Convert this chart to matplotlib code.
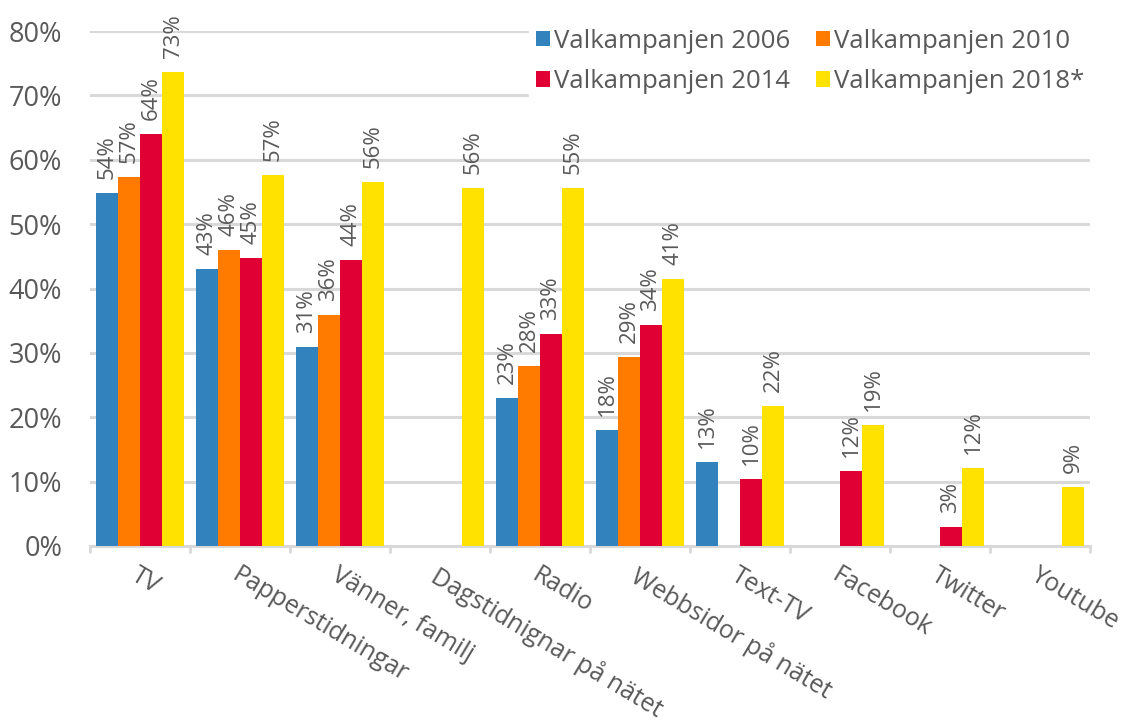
import numpy as np
import matplotlib
matplotlib.use("Agg")
from matplotlib import pyplot as plt

# data
categories = ["TV", "Papperstidningar", "Vänner, familj", "Dagstidnignar på nätet", "Radio",
              "Webbsidor på nätet", "Text-TV", "Facebook", "Twitter", "Youtube"]
series_names = ["Valkampanjen 2006", "Valkampanjen 2010", "Valkampanjen 2014", "Valkampanjen 2018*"]

nan = np.nan
values_2006 = [54.85, 43.1, 30.9, nan, 23.0, 18.0, 13.0, nan, nan, nan]
values_2010 = [57.3, 46.0, 35.9, nan, 28.0, 29.3, nan, nan, nan, nan]
values_2014 = [64.0, 44.8, 44.4, nan, 33.0, 34.3, 10.4, 11.7, 3.0, nan]
values_2018 = [73.6, 57.7, 56.5, 55.6, 55.6, 41.5, 21.8, 18.8, 12.1, 9.2]

labels_2006 = [54, 43, 31, None, 23, 18, 13, None, None, None]
labels_2010 = [57, 46, 36, None, 28, 29, None, None, None, None]
labels_2014 = [64, 45, 44, None, 33, 34, 10, 12, 3, None]
labels_2018 = [73, 57, 56, 56, 55, 41, 22, 19, 12, 9]

colors = ["#3182bd", "#ff7b00", "#e00034", "#ffe200"]
text_color = "#595959"
grid_color = "#d9d9d9"

plt.rcParams["font.family"] = ["Open Sans", "DejaVu Sans"]

fig = plt.figure(figsize=(11.34, 7.25), dpi=100)
ax = fig.add_axes([90 / 1134, 1 - 546 / 725, 1000 / 1134, (546 - 31) / 725])

all_values = [values_2006, values_2010, values_2014, values_2018]
all_labels = [labels_2006, labels_2010, labels_2014, labels_2018]
x = np.arange(len(categories))
width = 0.22

bars = []
for i, (vals, labs) in enumerate(zip(all_values, all_labels)):
    pos = x + (i - 1.5) * width
    b = ax.bar(pos, vals, width, color=colors[i], label=series_names[i], zorder=3)
    bars.append(b)
    for p, v, lab in zip(pos, vals, labs):
        if lab is None:
            continue
        ax.annotate(f"{lab}%", (p, v), xytext=(0, 10), textcoords="offset points",
                    rotation=90, ha="center", va="bottom", fontsize=16, color=text_color)

ax.set_xlim(-0.5, len(categories) - 0.5)
ax.set_ylim(0, 80)
ax.set_yticks(np.arange(0, 81, 10))
ax.set_yticklabels([f"{v}%" for v in range(0, 81, 10)])
ax.yaxis.grid(True, color=grid_color, linewidth=2.2, zorder=0)
ax.set_axisbelow(True)

for side in ["top", "right", "left"]:
    ax.spines[side].set_visible(False)
ax.spines["bottom"].set_color(grid_color)
ax.spines["bottom"].set_linewidth(2.2)

ax.tick_params(axis="y", length=0, pad=20, labelsize=19.5, labelcolor=text_color)
ax.set_xticks(x)
ax.set_xticklabels(categories, rotation=-31, ha="left", va="top", rotation_mode="anchor")
ax.set_xticks(np.arange(-0.5, len(categories), 1), minor=True)
ax.tick_params(axis="x", which="major", length=0, pad=12, labelsize=18, labelcolor=text_color)
ax.tick_params(axis="x", which="minor", length=5, width=2, color=grid_color)

handles = [bars[0], bars[2], bars[1], bars[3]]
names = [series_names[0], series_names[2], series_names[1], series_names[3]]
leg = fig.legend(handles, names, loc="upper right", bbox_to_anchor=(1105 / 1134, 1 - 8 / 725),
                 ncol=2, fontsize=18.5, frameon=True, facecolor="white", edgecolor="white",
                 framealpha=1, handlelength=0.55, handleheight=0.55, handletextpad=0.15,
                 columnspacing=1.0, labelspacing=0.6, borderpad=0.3)
for t in leg.get_texts():
    t.set_color(text_color)

fig.savefig("out.png", dpi=100)
